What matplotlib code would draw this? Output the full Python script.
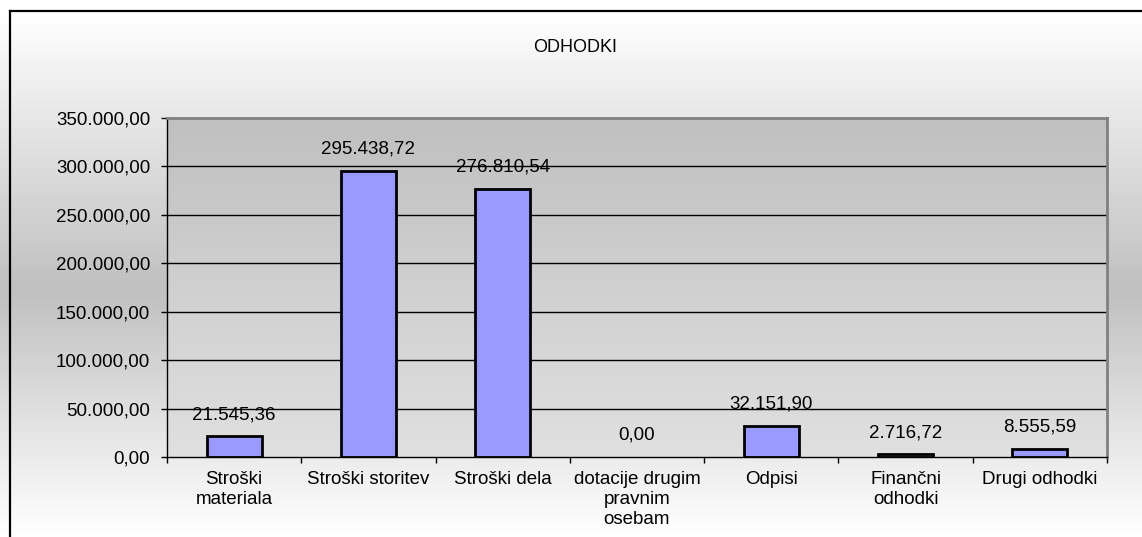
import numpy as np
import matplotlib
matplotlib.use("Agg")
import matplotlib.pyplot as plt
from matplotlib.lines import Line2D
from matplotlib.colors import LinearSegmentedColormap

plt.rcParams['font.family'] = ['Liberation Sans', 'DejaVu Sans']

# data
categories = ["Stroški\nmateriala", "Stroški storitev", "Stroški dela",
              "dotacije drugim\npravnim\nosebam", "Odpisi", "Finančni\nodhodki",
              "Drugi odhodki"]
values = [21545.36, 295438.72, 276810.54, 0.00, 32151.90, 2716.72, 8555.59]
yticks = [0, 50000, 100000, 150000, 200000, 250000, 300000, 350000]


def fmt(v):
    # slovenian style: 1.234,56
    s = "{:,.2f}".format(v)
    return s.replace(",", "X").replace(".", ",").replace("X", ".")


fig = plt.figure(figsize=(11.42, 5.37), dpi=100)

# figure background gradient (white -> gray -> white)
bg = fig.add_axes([0, 0, 1, 1], zorder=-10)
bg.axis("off")
ys = np.linspace(0, 537, 537)
shade = np.interp(ys, [0, 10, 290, 537], [1.0, 1.0, 0.75, 1.0])
bg.imshow(shade[:, None], aspect="auto", cmap="gray", vmin=0, vmax=1,
          extent=[0, 1, 0, 1], origin="upper")
bg.set_xlim(0, 1)
bg.set_ylim(0, 1)

# outer border (left and top only visible)
fig.add_artist(Line2D([9.5 / 1142, 9.5 / 1142], [0, 1 - 10.5 / 537],
                      transform=fig.transFigure, color="black", lw=1.6))
fig.add_artist(Line2D([9.5 / 1142, 1], [1 - 10.5 / 537, 1 - 10.5 / 537],
                      transform=fig.transFigure, color="black", lw=1.6))

ax = fig.add_axes([167 / 1142, 1 - 457 / 537, 940 / 1142, 339 / 537])
x = np.arange(len(categories))
ax.set_xlim(-0.5, len(categories) - 0.5)
ax.set_ylim(0, 350000)

# plot area gradient (darker at top)
cmap = LinearSegmentedColormap.from_list("pa", ["#c0c0c0", "#e0e0e0"])
ax.imshow(np.linspace(0, 1, 256)[:, None], aspect="auto", cmap=cmap,
          extent=[-0.5, len(categories) - 0.5, 0, 350000], origin="upper",
          zorder=0)

for t in yticks[1:-1]:
    ax.axhline(t, color="black", lw=1, zorder=1)

edge_w = [2 if v > 0 else 0 for v in values]
ax.bar(x, values, width=0.41, color="#9999ff", edgecolor="black",
       linewidth=edge_w, zorder=3)

for xi, v in zip(x, values):
    ax.annotate(fmt(v), (xi, v), xytext=(0, 15.5), textcoords="offset points",
                ha="center", va="center", fontsize=13.5, zorder=4)

ax.set_yticks(yticks)
ax.set_yticklabels([fmt(t) for t in yticks], fontsize=13.5)
ax.tick_params(axis="y", length=4, width=1, pad=8)

ax.set_xticks(np.arange(len(categories) + 1) - 0.5)
ax.set_xticklabels([])
ax.set_xticks(x, minor=True)
ax.set_xticklabels(categories, minor=True, fontsize=13.5, linespacing=1.25)
ax.tick_params(axis="x", which="major", length=4, width=1)
ax.tick_params(axis="x", which="minor", length=0, pad=10)

for side in ["left", "bottom"]:
    ax.spines[side].set_color("black")
    ax.spines[side].set_linewidth(1)
for side in ["top", "right"]:
    ax.spines[side].set_color("#808080")
    ax.spines[side].set_linewidth(2)

fig.text(575 / 1142, 1 - 47 / 537, "ODHODKI", ha="center", va="center", fontsize=13)

fig.savefig("out.png", dpi=100)
